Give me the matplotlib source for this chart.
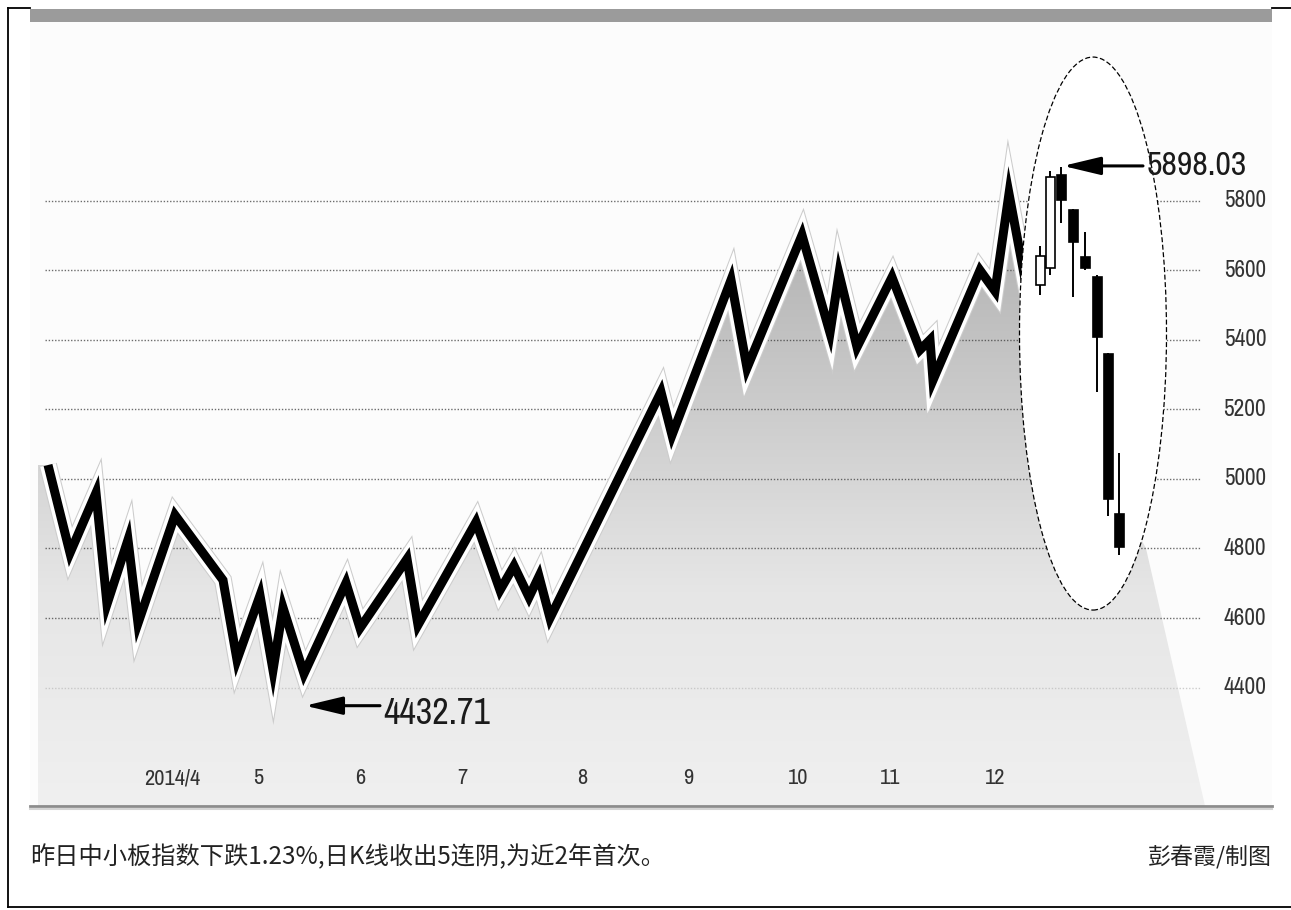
import numpy as np
import matplotlib
matplotlib.use("Agg")
import matplotlib.pyplot as plt
from matplotlib import font_manager
from matplotlib.colors import LinearSegmentedColormap
from matplotlib.patches import Polygon, Ellipse, Rectangle
from matplotlib.lines import Line2D
import matplotlib.patheffects as pe

# index line (weekly closes), x = position along the time axis
line_pos = [48, 70, 96, 107, 128, 138, 175, 223, 237, 260, 273, 283, 304, 346, 360,
            407, 418, 476, 500, 514, 529, 539, 550, 661, 672, 731, 747, 802, 830,
            839, 857, 892, 920, 930, 933, 980, 995, 1009, 1035]
line_val = [5040, 4787, 4960, 4640, 4825, 4585, 4896, 4709, 4480, 4665, 4450, 4630,
            4440, 4701, 4571, 4770, 4580, 4876, 4680, 4750, 4660, 4720, 4600, 5250,
            5126, 5572, 5319, 5701, 5420, 5590, 5379, 5580, 5371, 5400, 5284, 5600,
            5540, 5820, 5420]
# where the shaded area runs on after the line (hidden under the ellipse)
area_tail_pos = [1146, 1205]
area_tail_val = [4800, 4060]

# last daily candles
k_pos = [1040, 1050, 1061, 1073, 1085, 1097, 1108, 1119]
k_open = [5558, 5606, 5874, 5773, 5638, 5581, 5359, 4898]
k_high = [5670, 5885, 5898, 5775, 5710, 5585, 5362, 5074]
k_low = [5529, 5586, 5736, 5522, 5600, 5250, 4893, 4781]
k_close = [5641, 5868, 5802, 5681, 5606, 5407, 4942, 4803]

y_ticks = [4400, 4600, 4800, 5000, 5200, 5400, 5600, 5800]
x_tick_pos = [172, 258, 360, 462, 582, 688, 798, 890, 995]
x_tick_lab = ["2014/4", "5", "6", "7", "8", "9", "10", "11", "12"]

high_lab = "5898.03"
low_lab = "4432.71"
caption = "昨日中小板指数下跌1.23%,日K线收出5连阴,为近2年首次。"
credit = "彭春霞/制图"

names = {f.name for f in font_manager.fontManager.ttflist}
num_font = "Liberation Sans"
for cand in ["Liberation Sans Narrow", "Arial Narrow", "Archivo Narrow", "PT Sans Narrow",
             "Roboto Condensed", "Pragati Narrow", "Encode Sans Condensed",
             "IBM Plex Sans Condensed", "Asap Condensed", "Open Sans Condensed"]:
    if cand in names:
        num_font = cand
        break
cjk = ["Noto Sans CJK SC", "DejaVu Sans"]

W, H = 1291, 910
fig = plt.figure(figsize=(W / 100, H / 100), dpi=100)
fig.patch.set_facecolor("white")
renderer = fig.canvas.get_renderer()

def fx(px):
    return px / W

def fy(py):
    return 1 - py / H

def fit(t, width_px):
    # scale a text so that it is as wide as in the reference
    w = t.get_window_extent(renderer).width
    t.set_fontsize(t.get_fontsize() * width_px / w)

# outer frame lines
for xs, ys in [((8, 8), (8, 907)), ((8, 30), (8, 8)), ((1272, 1291), (8, 8)), ((8, 1291), (907, 907))]:
    fig.add_artist(Line2D([fx(x) for x in xs], [fy(y) for y in ys], color="black", lw=1.3))

# chart panel
ax = fig.add_axes([fx(30), fy(806), fx(1272) - fx(30), fy(22) - fy(806)])
ax.axis("off")
ax.add_patch(Rectangle((0, 0), 1, 1, transform=ax.transAxes, facecolor="#fcfcfc", zorder=0))

# top bar and bottom rule
fig.add_artist(Rectangle((fx(30), fy(22)), fx(1242), 13 / H, facecolor="#9b9b9b", edgecolor="none"))
fig.add_artist(Line2D([fx(30), fx(1272)], [fy(806), fy(806)], color="#8c8c8c", lw=2))
fig.add_artist(Line2D([fx(30), fx(1272)], [fy(808.5), fy(808.5)], color="#d4d4d4", lw=1.5))

# shaded area under the line
ymin = 4059.6
poly_x = [38, 38] + line_pos + area_tail_pos
poly_y = [ymin, line_val[0]] + line_val + area_tail_val
poly = Polygon(list(zip(poly_x, poly_y)), closed=True, facecolor="none", edgecolor="none")
ax.add_patch(poly)
cmap = LinearSegmentedColormap.from_list("g", ["#a9a9a9", "#c8c8c8", "#e6e6e6", "#f0f0f0"])
grad = np.linspace(0, 1, 256).reshape(-1, 1)
im = ax.imshow(grad, cmap=cmap, extent=[30, 1272, ymin, 5900], aspect="auto",
               origin="upper", zorder=1, interpolation="bicubic")
im.set_clip_path(poly)
ax.set_xlim(30, 1272)
ax.set_ylim(ymin, 6313.8)

# dotted grid
for v in y_ticks:
    ax.plot([45, 1200], [v, v], color="#bdbdbd" if v == 4400 else "#3c3c3c",
            lw=1.0, ls=(0, (1, 1.3)), alpha=0.75, zorder=2)
    t = ax.text(1245, v, str(v), ha="center", va="center", fontsize=15,
                family=num_font, color="#333333", zorder=6)
    fit(t, 43)

# the index line with white halo
ax.plot(line_pos, line_val, color="black", lw=6.5, zorder=3, solid_joinstyle="miter",
        solid_capstyle="butt",
        path_effects=[pe.Stroke(linewidth=13, foreground="#cccccc", joinstyle="miter"),
                      pe.Stroke(linewidth=11.5, foreground="white", joinstyle="miter"),
                      pe.Normal()])

# ellipse highlighting the candles
ax.add_patch(Ellipse((1093, 5418), 147, 1590, facecolor="white", edgecolor="black",
                     lw=0.9, ls=(0, (4, 2)), zorder=4))

for x, o, h, l, c in zip(k_pos, k_open, k_high, k_low, k_close):
    ax.vlines(x, l, h, color="black", lw=1.4, zorder=5)
    fc = "white" if c >= o else "black"
    ax.bar(x, c - o, bottom=o, width=9, facecolor=fc, edgecolor="black", lw=1.2, zorder=5)

# labels for high and low
ax.annotate("", xy=(1063, 5900), xytext=(1143, 5900),
            arrowprops=dict(arrowstyle="-|>,head_length=2.3,head_width=0.55", lw=2.2,
                            color="black", shrinkA=0, shrinkB=0), zorder=6)
t = ax.text(1147, 5900, high_lab, ha="left", va="center", fontsize=26, family=num_font,
            color="#1a1a1a", zorder=6)
fit(t, 100)
ax.annotate("", xy=(305, 4348), xytext=(380, 4348),
            arrowprops=dict(arrowstyle="-|>,head_length=2.3,head_width=0.55", lw=2.2,
                            color="black", shrinkA=0, shrinkB=0), zorder=6)
t = ax.text(383, 4325, low_lab, ha="left", va="center", fontsize=26, family=num_font,
            color="#1a1a1a", zorder=6)
fit(t, 107)

for x, lab in zip(x_tick_pos, x_tick_lab):
    t = ax.text(x, 4140, lab, ha="center", va="center", fontsize=14, family=num_font,
                color="#333333", zorder=6)
    if lab == "2014/4":
        fit(t, 56)
        tick_size = t.get_fontsize()
for t in ax.texts:
    if t.get_text() in x_tick_lab:
        t.set_fontsize(tick_size)

t = fig.text(fx(30), fy(857), caption, ha="left", va="center", fontsize=16, family=cjk,
             color="#222222")
fit(t, 635)
t = fig.text(fx(1272), fy(857), credit, ha="right", va="center", fontsize=16, family=cjk,
             color="#222222")
fit(t, 124)

fig.savefig("out.png", dpi=100)
